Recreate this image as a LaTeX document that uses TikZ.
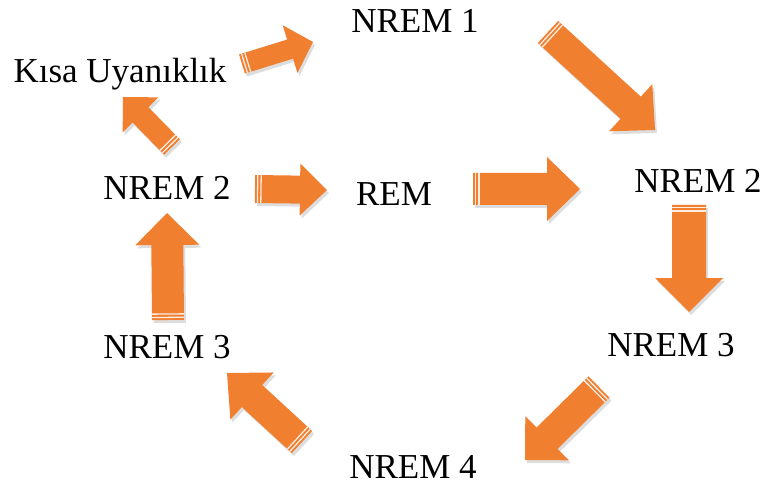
\documentclass[tikz,border=0pt]{standalone}
\usepackage{fontspec}
\setmainfont{Liberation Serif}
\usetikzlibrary{calc,shadows}
\definecolor{arroworange}{RGB}{240,127,48}
\tikzset{
  lbl/.style={font=\fontsize{35}{40}\selectfont, inner sep=0pt, anchor=center},
  blockbody/.style={fill=arroworange, draw=none,
    drop shadow={opacity=0.22, shadow xshift=2pt, shadow yshift=-3pt, fill=black!60}},
  tailstripe/.style={draw=white!85!arroworange, line width=1.3pt}
}
% #1 tail, #2 tip, #3 half shaft width, #4 half head width, #5 head length
\newcommand\blockarr[5]{%
  \coordinate (bT1) at ($(#1)!#3!90:(#2)$);
  \coordinate (bT2) at ($(#1)!#3!-90:(#2)$);
  \coordinate (bH) at ($(#2)!#5!(#1)$);
  \coordinate (bS1) at ($(bH)+(bT1)-(#1)$);
  \coordinate (bS2) at ($(bH)+(bT2)-(#1)$);
  \coordinate (bC1) at ($(bH)!#4!-90:(#1)$);
  \coordinate (bC2) at ($(bH)!#4!90:(#1)$);
  \path[blockbody] (bT1) -- (bS1) -- (bC1) -- (#2) -- (bC2) -- (bS2) -- (bT2) -- cycle;
  \draw[tailstripe] ($(bT1)!2.6pt!(bS1)$) -- ($(bT2)!2.6pt!(bS2)$);
  \draw[tailstripe] ($(bT1)!6pt!(bS1)$) -- ($(bT2)!6pt!(bS2)$);
}
\begin{document}
\begin{tikzpicture}[x=1pt,y=-1pt]
\useasboundingbox (0,0) rectangle (762,486);
% labels
\node[lbl] (n1)   at (415,21)  {NREM 1};
\node[lbl] (kisa) at (120,74)  {Kısa Uyanıklık};
\node[lbl] (n2l)  at (167,188) {NREM 2};
\node[lbl] (rem)  at (394,194) {REM};
\node[lbl] (n2r)  at (698,181) {NREM 2};
\node[lbl] (n3r)  at (671,345) {NREM 3};
\node[lbl] (n3l)  at (167,347) {NREM 3};
\node[lbl] (n4)   at (413,467) {NREM 4};
% arrow end points
\coordinate (a1s) at (242,64);  \coordinate (a1e) at (313,42);
\coordinate (a2s) at (548,32);  \coordinate (a2e) at (655,130);
\coordinate (a3s) at (255,189); \coordinate (a3e) at (327,190);
\coordinate (a4s) at (473,189); \coordinate (a4e) at (580,189);
\coordinate (a5s) at (689,205); \coordinate (a5e) at (689,312);
\coordinate (a6s) at (599,387); \coordinate (a6e) at (525,460);
\coordinate (a7s) at (302,442); \coordinate (a7e) at (227,373);
\coordinate (a8s) at (168,320); \coordinate (a8e) at (167,213);
\coordinate (a9s) at (172,147); \coordinate (a9e) at (123,97);
% arrows
\blockarr{a1s}{a1e}{10pt}{25pt}{24pt}
\blockarr{a2s}{a2e}{15pt}{32pt}{33pt}
\blockarr{a3s}{a3e}{14pt}{26pt}{27pt}
\blockarr{a4s}{a4e}{16pt}{32pt}{33pt}
\blockarr{a5s}{a5e}{17pt}{34pt}{34pt}
\blockarr{a6s}{a6e}{15pt}{31pt}{31pt}
\blockarr{a7s}{a7e}{15pt}{32pt}{34pt}
\blockarr{a8s}{a8e}{16pt}{32pt}{32pt}
\blockarr{a9s}{a9e}{11pt}{25pt}{25pt}
\end{tikzpicture}
\end{document}
